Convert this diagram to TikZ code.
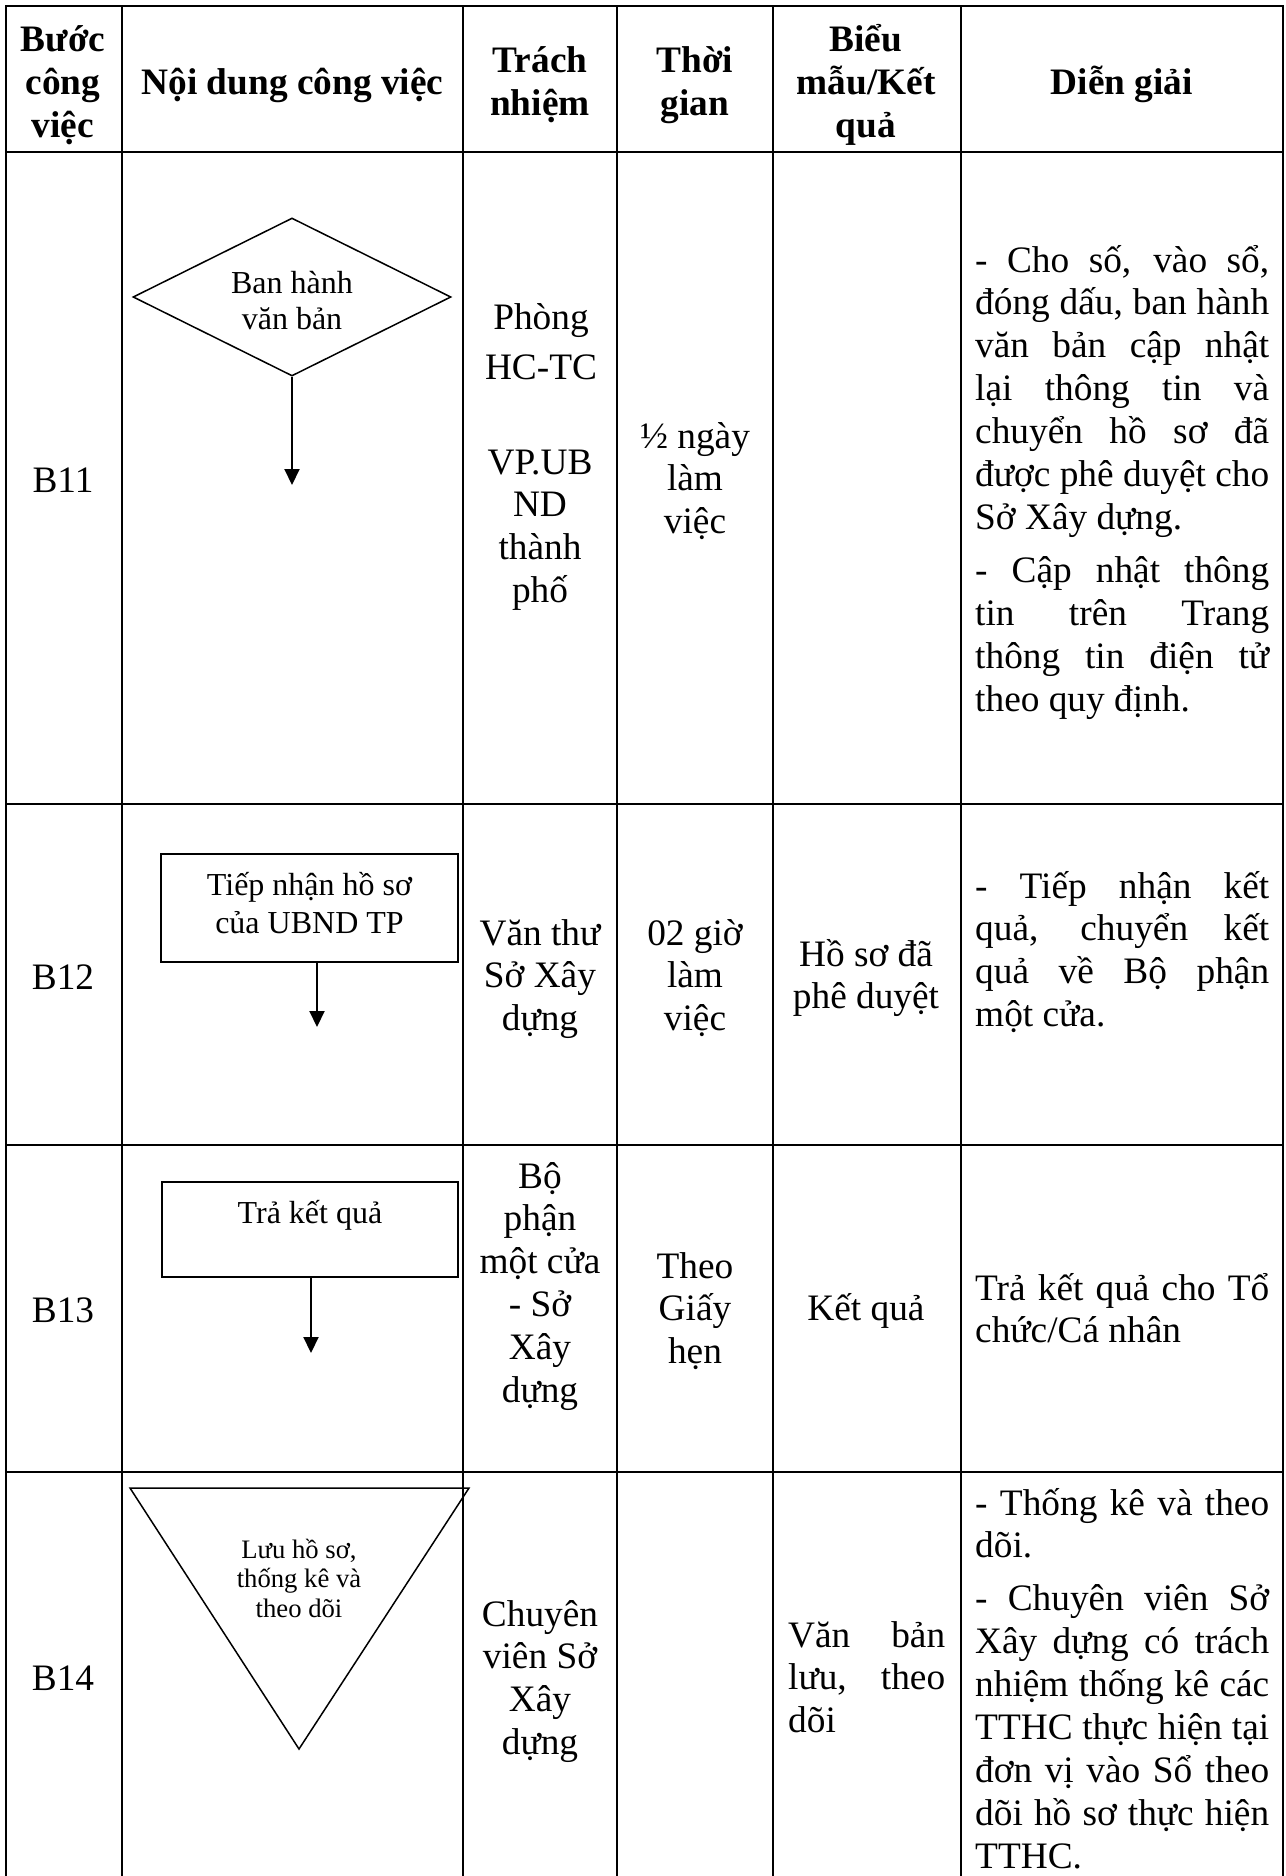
\documentclass[tikz,border=0pt]{standalone}
\usepackage{fontspec}
\setmainfont{Liberation Serif}
\usetikzlibrary{arrows.meta,shapes.geometric}
\newcommand{\bodyfont}{\fontsize{37.33}{42.9}\selectfont\lineskiplimit=-100pt\relax}
\newcommand{\cc}[1]{\parbox[t]{340pt}{\centering\bodyfont #1}}
\newcommand{\jj}[2]{\parbox[t]{#1}{\bodyfont\tolerance=10000\hyphenpenalty=10000\parindent=0pt #2}}
\tikzset{
  tablegrid/.style={line width=2pt, line cap=rect},
  txt/.style={inner sep=0pt, anchor=base},
  jtxt/.style={inner sep=0pt, anchor=base west},
  shapeline/.style={line width=1.5pt},
  flowbox/.style={draw, rectangle, line width=1.5pt, inner sep=0pt},
  arr/.style={line width=2pt, -{Triangle[length=16pt,width=15pt]}},
}
\begin{document}
\begin{tikzpicture}[x=1pt,y=-1pt]
\useasboundingbox (0,0) rectangle (1285,1876);
\fill[white] (0,0) rectangle (1285,1876);
% table grid
\foreach \yy in {6,152,804,1145,1472} {\draw[tablegrid] (6,\yy) -- (1283,\yy);}
\foreach \xx in {6,122,463,617,773,961,1283} {\draw[tablegrid] (\xx,6) -- (\xx,1880);}
% header
\node[txt] (hB) at (63,52) {\cc{\bfseries Bước\\công\\việc}};
\node[txt] (hN) at (292.5,95) {\cc{\bfseries Nội dung công việc}};
\node[txt] (hT) at (540,73) {\cc{\bfseries Trách\\nhiệm}};
\node[txt] (hG) at (695,73) {\cc{\bfseries Thời\\gian}};
\node[txt] (hM) at (866,52) {\cc{\bfseries Biểu\\mẫu/Kết\\quả}};
\node[txt] (hD) at (1122,95) {\cc{\bfseries Diễn giải}};
% ---------- B11
\node[txt] (s11) at (63,492) {\cc{B11}};
\node[diamond, draw, shapeline, minimum width=318pt, minimum height=158pt, inner sep=0pt, shape aspect=2] (d11) at (292,297) {};
\node[txt] (d11t) at (292,293) {\parbox[t]{250pt}{\centering\fontsize{32}{36.5}\selectfont Ban hành\\văn bản}};
\coordinate (a11) at (292,485);
\draw[arr] (d11.south) -- (a11);
\node[txt] (r11) at (541,329) {\cc{\fontsize{37.33}{50}\selectfont Phòng\\HC-TC}};
\node[txt] (r11b) at (540,474) {\cc{VP.UB\\ND\\thành\\phố}};
\node[txt] (g11) at (695,448) {\cc{½ ngày\\làm\\việc}};
\node[jtxt] (x11) at (975,272) {\jj{294pt}{- Cho số, vào sổ,\linebreak đóng dấu, ban hành\linebreak văn bản cập nhật\linebreak lại thông tin và\linebreak chuyển hồ sơ đã\linebreak được phê duyệt cho\linebreak Sở Xây dựng.\par\vspace{10pt}- Cập nhật thông\linebreak tin trên Trang\linebreak thông tin điện tử\linebreak theo quy định.}};
% ---------- B12
\node[txt] (s12) at (63,989) {\cc{B12}};
\node[flowbox, minimum width=297pt, minimum height=108pt] (b12) at (309.5,908) {};
\node[txt] (b12t) at (309.5,895) {\parbox[t]{290pt}{\centering\fontsize{32}{38}\selectfont Tiếp nhận hồ sơ\\của UBND TP}};
\coordinate (a12) at (317,1027);
\draw[arr] (b12.south -| a12) -- (a12);
\node[txt] (r12) at (540,945) {\cc{Văn thư\\Sở Xây\\dựng}};
\node[txt] (g12) at (695,945) {\cc{02 giờ\\làm\\việc}};
\node[txt] (m12) at (866,966) {\cc{Hồ sơ đã\\phê duyệt}};
\node[jtxt] (x12) at (975,898) {\jj{294pt}{- Tiếp nhận kết\linebreak quả, chuyển kết\linebreak quả về Bộ phận\linebreak một cửa.}};
% ---------- B13
\node[txt] (s13) at (63,1322) {\cc{B13}};
\node[flowbox, minimum width=296pt, minimum height=95pt] (b13) at (310,1229.5) {};
\node[txt] (b13t) at (310,1223) {\parbox[t]{290pt}{\centering\fontsize{32}{38}\selectfont Trả kết quả}};
\coordinate (a13) at (311,1353);
\draw[arr] (b13.south -| a13) -- (a13);
\node[txt] (r13) at (540,1188) {\cc{Bộ\\phận\\một cửa\\- Sở\\Xây\\dựng}};
\node[txt] (g13) at (695,1278) {\cc{Theo\\Giấy\\hẹn}};
\node[txt] (m13) at (866,1320) {\cc{Kết quả}};
\node[jtxt] (x13) at (975,1300) {\jj{294pt}{Trả kết quả cho Tổ\linebreak chức/Cá nhân}};
% ---------- B14
\node[txt] (s14) at (63,1690) {\cc{B14}};
\coordinate (tri1) at (130,1488);
\coordinate (tri2) at (469,1488);
\coordinate (tri3) at (299,1749);
\draw[shapeline, line join=miter] (tri1) -- (tri2) -- (tri3) -- cycle;
\node[txt] (trit) at (299,1558) {\parbox[t]{200pt}{\centering\fontsize{26.67}{29.5}\selectfont Lưu hồ sơ,\\thống kê và\\theo dõi}};
\node[txt] (r14) at (540,1626) {\cc{Chuyên\\viên Sở\\Xây\\dựng}};
\node[jtxt] (m14) at (788,1647) {\jj{157pt}{Văn bản\linebreak lưu, theo\linebreak dõi}};
\node[jtxt] (x14) at (975,1515) {\jj{294pt}{- Thống kê và theo\linebreak dõi.\par\vspace{10pt}- Chuyên viên Sở\linebreak Xây dựng có trách\linebreak nhiệm thống kê các\linebreak TTHC thực hiện tại\linebreak đơn vị vào Sổ theo\linebreak dõi hồ sơ thực hiện\linebreak TTHC.}};
\end{tikzpicture}
\end{document}
